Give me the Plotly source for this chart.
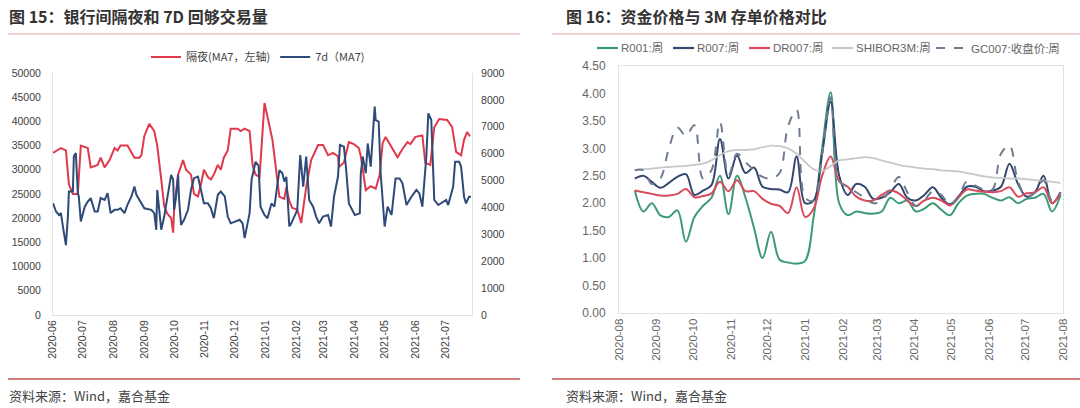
import plotly.graph_objects as go

# ---------------- Left chart data (figure 15) ----------------
overnight_dates = [
    "2020-06-01", "2020-06-09", "2020-06-14", "2020-06-17", "2020-06-21", "2020-06-26", "2020-06-29",
    "2020-07-06", "2020-07-09", "2020-07-16", "2020-07-19", "2020-07-23", "2020-07-28",
    "2020-08-02", "2020-08-05", "2020-08-08", "2020-08-15", "2020-08-18", "2020-08-22", "2020-08-27", "2020-08-29",
    "2020-09-01", "2020-09-06", "2020-09-11", "2020-09-14", "2020-09-18", "2020-09-21", "2020-09-24", "2020-09-28", "2020-09-30",
    "2020-10-01", "2020-10-05", "2020-10-10", "2020-10-13", "2020-10-18", "2020-10-21", "2020-10-25", "2020-10-28", "2020-10-31",
    "2020-11-04", "2020-11-07", "2020-11-10", "2020-11-14", "2020-11-17", "2020-11-20", "2020-11-24", "2020-11-27",
    "2020-12-04", "2020-12-07", "2020-12-11", "2020-12-16", "2020-12-19", "2020-12-22", "2020-12-26", "2020-12-27", "2020-12-29", "2020-12-31",
    "2021-01-08", "2021-01-12", "2021-01-15", "2021-01-20", "2021-01-22", "2021-01-25", "2021-01-28",
    "2021-02-02", "2021-02-06", "2021-02-11", "2021-02-16", "2021-02-23", "2021-02-28",
    "2021-03-05", "2021-03-10", "2021-03-15", "2021-03-16", "2021-03-21", "2021-03-26", "2021-03-31",
    "2021-04-05", "2021-04-07", "2021-04-12", "2021-04-17", "2021-04-22", "2021-04-26", "2021-04-29",
    "2021-05-02", "2021-05-07", "2021-05-14", "2021-05-19", "2021-05-24", "2021-05-27",
    "2021-06-01", "2021-06-08", "2021-06-11", "2021-06-16", "2021-06-20", "2021-06-25",
    "2021-07-03", "2021-07-08", "2021-07-12", "2021-07-17", "2021-07-20", "2021-07-23", "2021-07-26",
]
overnight_vals = [
    33500, 34500, 34000, 27000, 25000, 25000, 35000,
    34500, 30500, 31000, 32500, 30500, 32000,
    34500, 34000, 35000, 35000, 34000, 32500, 32500, 33000,
    37000, 39500, 38000, 35000, 28000, 22500, 21000, 20000, 17000,
    22000, 29000, 32000, 30000, 29000, 25000, 24500, 27000, 30000,
    28500, 28000, 29000, 31000, 30000, 32500, 34000, 38500,
    38500, 38000, 38500, 38000, 31000, 29000, 28500, 32000, 38000, 43800,
    36200, 30000, 24400, 24000, 26400, 23500, 22100,
    21800, 19000, 26400, 32000, 35100, 35100,
    33000, 33500, 32800, 30600, 31500, 35700, 35300,
    34500, 32800, 25800, 26600, 26100, 28900, 35500,
    36800, 35100, 32600, 34300, 35700, 35300,
    36800, 37100, 31400, 31000, 38800, 40500,
    40300, 38800, 33700, 33000, 36200, 37800, 36900,
]

d7_dates = [
    "2020-06-01", "2020-06-04", "2020-06-07", "2020-06-09", "2020-06-11", "2020-06-12", "2020-06-14", "2020-06-16",
    "2020-06-17", "2020-06-21", "2020-06-22", "2020-06-24", "2020-06-26", "2020-06-27", "2020-06-29",
    "2020-07-03", "2020-07-06", "2020-07-09", "2020-07-13", "2020-07-16", "2020-07-19", "2020-07-23", "2020-07-26", "2020-07-29",
    "2020-08-02", "2020-08-05", "2020-08-08", "2020-08-12", "2020-08-15", "2020-08-19", "2020-08-22", "2020-08-24", "2020-08-29",
    "2020-09-01", "2020-09-08", "2020-09-11", "2020-09-13", "2020-09-14", "2020-09-16", "2020-09-18", "2020-09-21", "2020-09-25", "2020-09-28", "2020-09-30",
    "2020-10-01", "2020-10-03", "2020-10-05", "2020-10-06", "2020-10-08", "2020-10-11", "2020-10-15", "2020-10-18", "2020-10-21", "2020-10-25", "2020-10-28", "2020-10-31",
    "2020-11-04", "2020-11-07", "2020-11-10", "2020-11-14", "2020-11-17", "2020-11-21", "2020-11-24", "2020-11-27",
    "2020-12-06", "2020-12-09", "2020-12-11", "2020-12-14", "2020-12-16", "2020-12-18", "2020-12-22", "2020-12-25", "2020-12-27", "2020-12-31",
    "2021-01-03", "2021-01-07", "2021-01-10", "2021-01-15", "2021-01-18", "2021-01-20", "2021-01-22", "2021-01-23", "2021-01-25", "2021-01-27", "2021-01-30",
    "2021-02-02", "2021-02-05", "2021-02-08", "2021-02-11", "2021-02-14", "2021-02-18", "2021-02-21", "2021-02-24", "2021-02-28",
    "2021-03-05", "2021-03-08", "2021-03-11", "2021-03-15", "2021-03-17", "2021-03-21", "2021-03-23", "2021-03-26",
    "2021-04-01", "2021-04-06", "2021-04-07", "2021-04-09", "2021-04-12", "2021-04-14", "2021-04-17", "2021-04-21", "2021-04-22", "2021-04-25", "2021-04-27",
    "2021-05-01", "2021-05-04", "2021-05-08", "2021-05-12", "2021-05-16", "2021-05-19", "2021-05-23", "2021-05-28",
    "2021-06-02", "2021-06-05", "2021-06-08", "2021-06-12", "2021-06-14", "2021-06-17", "2021-06-20", "2021-06-24", "2021-06-29",
    "2021-07-02", "2021-07-04", "2021-07-09", "2021-07-11", "2021-07-15", "2021-07-17", "2021-07-20", "2021-07-22", "2021-07-25", "2021-07-27",
]
d7_vals = [
    4160, 3850, 3720, 3790, 3290, 3040, 2600, 3660,
    4590, 4590, 5900, 6020, 4530, 4410, 3480,
    4030, 4220, 4350, 3850, 3850, 4350, 4280, 4530, 3790,
    3910, 3910, 3970, 3790, 4100, 4410, 4780, 4470, 4160,
    3970, 3910, 3790, 3170, 4650, 3910, 3170, 3660, 4530, 5210, 5030,
    3910, 4410, 5210, 4280, 3350, 3540, 3910, 4650, 5090, 5150, 4590, 4160,
    4160, 3970, 3600, 4470, 4590, 4410, 3660, 3410,
    3540, 3410, 2860, 3410, 3790, 5030, 5700, 5550, 4030, 3720,
    3600, 4150, 4030, 5390, 5270, 4960, 5140, 4520, 3290, 3410, 3660,
    3900, 5950, 4770, 5890, 4280, 4030, 3660, 3410, 3660,
    3720, 3290, 4400, 5140, 6320, 6260, 5520, 4150,
    3720, 3780, 5270, 5890, 5270, 6380, 5520, 7750, 7250, 7190, 5270,
    3290, 4030, 3720, 5080, 5080, 4900, 4090, 4400,
    4650, 4520, 4030, 5890, 7500, 7250, 4280, 4090, 4210,
    4280, 4090, 4770, 5700, 5700, 5520, 4400, 4150, 4400, 4400,
]

# ---------------- Right chart data (figure 16) ----------------
week_dates = [
    "2020-08-14", "2020-08-21", "2020-08-28", "2020-09-04", "2020-09-11", "2020-09-18", "2020-09-25",
    "2020-10-02", "2020-10-09", "2020-10-16", "2020-10-23", "2020-10-30", "2020-11-06", "2020-11-13",
    "2020-11-20", "2020-11-27", "2020-12-04", "2020-12-11", "2020-12-18", "2020-12-25", "2021-01-01",
    "2021-01-08", "2021-01-15", "2021-01-22", "2021-01-29", "2021-02-05", "2021-02-12", "2021-02-19",
    "2021-02-26", "2021-03-05", "2021-03-12", "2021-03-19", "2021-03-26", "2021-04-02", "2021-04-09",
    "2021-04-16", "2021-04-23", "2021-04-30", "2021-05-07", "2021-05-14", "2021-05-21", "2021-05-28",
    "2021-06-04", "2021-06-11", "2021-06-18", "2021-06-25", "2021-07-02", "2021-07-09", "2021-07-16",
    "2021-07-23", "2021-07-30",
]
r001 = [2.23, 1.85, 2.00, 1.78, 1.75, 1.87, 1.30, 1.75, 1.95, 2.10, 2.50, 1.80, 2.50, 2.10,
        1.55, 1.00, 1.48, 0.97, 0.92, 0.90, 0.95, 1.75, 3.00, 4.02, 2.00, 1.78, 1.85, 1.82,
        1.81, 1.85, 2.10, 2.00, 2.05, 1.85, 1.90, 2.00, 1.88, 1.78, 2.00, 2.14, 2.17, 2.17,
        2.10, 2.05, 2.11, 2.00, 2.08, 2.10, 2.17, 1.85, 2.15]
r007 = [2.45, 2.50, 2.39, 2.28, 2.37, 2.48, 2.53, 2.15, 2.23, 2.33, 3.17, 2.45, 2.87, 2.55,
        2.65, 2.30, 2.26, 2.25, 2.20, 2.85, 2.00, 2.05, 2.90, 3.85, 2.50, 2.15, 2.35, 2.30,
        2.08, 2.10, 2.20, 2.35, 2.10, 2.05, 2.15, 2.29, 2.10, 1.98, 2.12, 2.30, 2.30, 2.22,
        2.23, 2.30, 2.72, 2.35, 2.12, 2.20, 2.50, 2.00, 2.20]
dr007 = [2.23, 2.20, 2.17, 2.14, 2.14, 2.17, 2.26, 2.11, 2.13, 2.18, 2.39, 2.22, 2.42, 2.22,
         2.22, 2.08, 1.99, 1.95, 1.82, 2.29, 1.75, 1.90, 2.50, 2.85, 2.40, 2.30, 2.12, 2.05,
         2.05, 2.15, 2.23, 2.18, 2.05, 1.95, 2.05, 2.10, 2.05, 1.96, 2.10, 2.25, 2.23, 2.21,
         2.20, 2.22, 2.29, 2.12, 2.18, 2.20, 2.29, 2.00, 2.20]
shibor3m = [2.60, 2.62, 2.63, 2.65, 2.66, 2.67, 2.68, 2.70, 2.72, 2.78, 2.88, 2.95, 2.97, 2.97,
            2.98, 3.02, 3.05, 3.04, 3.00, 2.90, 2.75, 2.62, 2.58, 2.68, 2.78, 2.80, 2.82, 2.84,
            2.82, 2.78, 2.74, 2.70, 2.67, 2.65, 2.63, 2.62, 2.60, 2.59, 2.58, 2.55, 2.52, 2.49,
            2.47, 2.46, 2.45, 2.45, 2.44, 2.42, 2.41, 2.39, 2.37]
gc007 = [2.60, 2.60, 2.35, 2.45, 3.00, 3.38, 3.23, 3.42, 2.45, 2.60, 3.48, 2.50, 2.90, 2.75,
         2.60, 2.48, 2.45, 2.55, 3.40, 3.70, 2.10, 2.05, 2.90, 3.93, 2.40, 2.30, 2.20, 2.10,
         2.00, 2.05, 2.25, 2.48, 2.20, 1.95, 2.05, 2.22, 2.15, 1.97, 2.10, 2.40, 2.32, 2.25,
         2.25, 2.90, 3.05, 2.40, 2.12, 2.20, 2.42, 2.05, 2.20]

right_names = ["R001:周", "R007:周", "DR007:周", "SHIBOR3M:周", "GC007:收盘价:周"]
right_series = [r001, r007, dr007, shibor3m, gc007]
right_colors = ["#3c9a78", "#34466e", "#d84a5c", "#c8c8c8", "#6e7c92"]
right_widths = [2, 2, 2, 1.8, 2]
right_dashes = ["solid", "solid", "solid", "solid", "dash"]

W, H = 1080, 408
def fx(px):
    return px / W
def fy(py):
    return 1 - py / H

TXT = "Liberation Sans, Noto Sans CJK SC, sans-serif"
CJK = "Noto Sans CJK SC, sans-serif"

fig = go.Figure()

fig.add_trace(go.Scatter(x=overnight_dates, y=overnight_vals, name="隔夜(MA7，左轴)",
                         mode="lines", line=dict(color="#e0394b", width=2),
                         xaxis="x", yaxis="y", legend="legend"))
fig.add_trace(go.Scatter(x=d7_dates, y=d7_vals, name="7d（MA7)",
                         mode="lines", line=dict(color="#2e4a78", width=2),
                         xaxis="x", yaxis="y2", legend="legend"))

for name, vals, col, wd, ds in zip(right_names, right_series, right_colors, right_widths, right_dashes):
    fig.add_trace(go.Scatter(x=week_dates, y=vals, name=name, mode="lines",
                             line=dict(color=col, width=wd, dash=ds, shape="spline", smoothing=1.0),
                             xaxis="x2", yaxis="y3", showlegend=False))

axis_line = "#e3e3e3"
fig.update_layout(
    width=W, height=H,
    margin=dict(l=0, r=0, t=0, b=0, autoexpand=False),
    paper_bgcolor="white", plot_bgcolor="white",
    font=dict(family=TXT, size=11, color="#444"),
    showlegend=True,
    xaxis=dict(domain=[fx(53), fx(472)], anchor="y", type="date", automargin=False,
               range=["2020-06-01", "2021-07-28"], dtick="M1", tick0="2020-06-01",
               tickformat="%Y-%m", tickangle=-90, showgrid=False, zeroline=False,
               showline=True, linecolor=axis_line, ticks="",
               tickfont=dict(size=10.5, color="#404040")),
    yaxis=dict(domain=[fy(315), fy(73)], anchor="x", range=[0, 50000], dtick=5000,
               tickformat="d", automargin=False,
               showgrid=False, zeroline=False, showline=True, linecolor=axis_line,
               ticks="", ticklabelstandoff=9, tickfont=dict(size=10.5, color="#404040")),
    yaxis2=dict(overlaying="y", side="right", anchor="x", range=[0, 9000], dtick=1000,
                tickformat="d", automargin=False,
                showgrid=False, zeroline=False, showline=True, linecolor=axis_line,
                ticks="", ticklabelstandoff=6, tickfont=dict(size=10.5, color="#404040")),
    xaxis2=dict(domain=[fx(619), fx(1063)], anchor="y3", type="date", automargin=False,
                range=["2020-08-01", "2021-08-01"], dtick="M1", tick0="2020-08-01",
                tickformat="%Y-%m", tickangle=-90, showgrid=False, zeroline=False,
                showline=True, mirror=True, linecolor=axis_line, ticks="",
                tickfont=dict(size=11.5, color="#666")),
    yaxis3=dict(domain=[fy(313), fy(66)], anchor="x2", range=[0, 4.5], dtick=0.5,
                tickformat=".2f", showgrid=False, zeroline=False, showline=True, automargin=False,
                mirror=True, linecolor=axis_line, ticks="", ticklabelstandoff=10,
                tickfont=dict(size=12, color="#666")),
    legend=dict(orientation="h", x=fx(258), y=fy(57), xanchor="center", yanchor="middle",
                font=dict(family=CJK, size=11, color="#444"), itemwidth=30,
                bgcolor="rgba(0,0,0,0)"),
)

# Legend keys for the right chart (drawn as decoration)
key_x = [(597, 618, 620), (673, 694, 696), (749, 770, 772), (832, 853, 855), (936, 966, 970)]
for (k0, k1, tx), name, col, wd, ds in zip(key_x, right_names, right_colors, right_widths, right_dashes):
    fig.add_shape(type="line", xref="paper", yref="paper", x0=fx(k0), x1=fx(k1),
                  y0=fy(48), y1=fy(48), line=dict(color=col, width=2.2, dash=("dash" if ds == "dash" else "solid")))
    fig.add_annotation(text=name, x=fx(tx), y=fy(48), xref="paper", yref="paper",
                       xanchor="left", yanchor="middle", showarrow=False, borderpad=0,
                       font=dict(family=TXT, size=11.5, color="#666"))

# Titles, rules, source notes
fig.add_annotation(text="<b>图 15：银行间隔夜和 7D 回够交易量</b>", x=fx(8), y=fy(16),
                   xref="paper", yref="paper", xanchor="left", yanchor="middle",
                   showarrow=False, borderpad=0, font=dict(family=CJK, size=16, color="#333"))
fig.add_annotation(text="<b>图 16：资金价格与 3M 存单价格对比</b>", x=fx(565), y=fy(16),
                   xref="paper", yref="paper", xanchor="left", yanchor="middle",
                   showarrow=False, borderpad=0, font=dict(family=CJK, size=16, color="#333"))
fig.add_annotation(text="资料来源：Wind，嘉合基金", x=fx(8), y=fy(395),
                   xref="paper", yref="paper", xanchor="left", yanchor="middle",
                   showarrow=False, borderpad=0, font=dict(family=CJK, size=13, color="#444"))
fig.add_annotation(text="资料来源：Wind，嘉合基金", x=fx(565), y=fy(395),
                   xref="paper", yref="paper", xanchor="left", yanchor="middle",
                   showarrow=False, borderpad=0, font=dict(family=CJK, size=13, color="#444"))

for x0, x1 in [(8, 520), (552, 1080)]:
    fig.add_shape(type="line", xref="paper", yref="paper", x0=fx(x0), x1=fx(x1),
                  y0=fy(34), y1=fy(34), line=dict(color="#e2a7a7", width=1))
    fig.add_shape(type="line", xref="paper", yref="paper", x0=fx(x0), x1=fx(x1),
                  y0=fy(379), y1=fy(379), line=dict(color="#c0504d", width=1.5))

fig.write_html("out.html", config={"displayModeBar": False},
               post_script="document.body.style.margin='0';document.body.style.padding='0';document.body.style.overflow='hidden';")
